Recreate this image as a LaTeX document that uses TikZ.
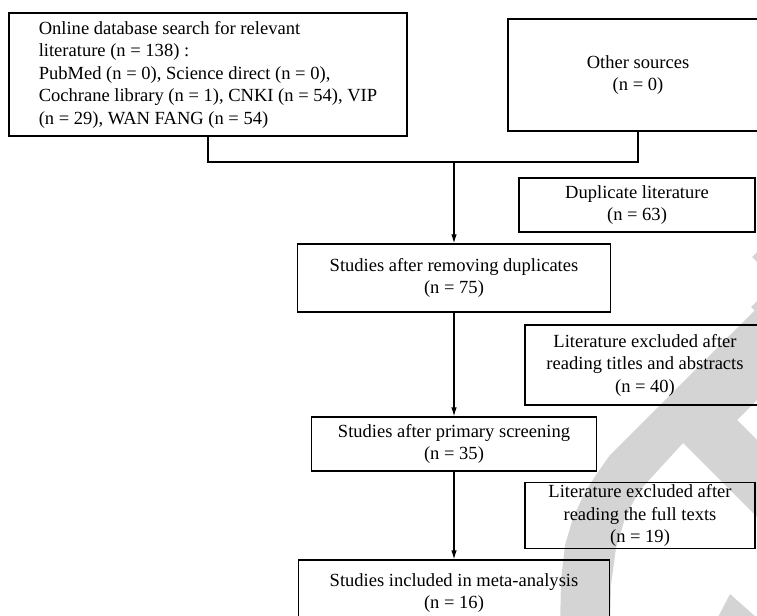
\documentclass[tikz,border=0pt]{standalone}
\usepackage{fontspec}
\setmainfont{Liberation Serif}
\usetikzlibrary{arrows.meta}
\definecolor{markgray}{RGB}{212,212,212}
\tikzset{
	flowbox/.style={draw, line width=1.2bp, inner sep=2bp, align=center, font=\fontsize{18.6pt}{22.6pt}\selectfont},
	flowline/.style={line width=1.2bp},
	flowarrow/.style={line width=1.2bp, -{Latex[length=9bp,width=5.5bp]}}
}

\begin{document}
\begin{tikzpicture}[x=1bp, y=-1bp]
			%%%%% START %%%%%
			\useasboundingbox (0,0) rectangle (757,616);
			\clip (0,0) rectangle (757,616);
			
			% watermark behind the boxes
			\fill[markgray] (800,265) -- (610,455) -- (598,472) -- (585,492) -- (573,518) -- (565,545) -- (561,580) -- (560,630)
				-- (610,630) -- (611,585) -- (616,548) -- (626,515) -- (640,490) -- (683,443)
				-- (790,550) -- (790,473) -- (737,420) -- (790,367) -- cycle;
			\fill[markgray] (714,625) -- (730,594) -- (765,625) -- cycle;
			\fill[markgray] (751,307) -- (762,296) -- (762,318) -- cycle;
			\fill[markgray] (752,257) -- (762,247) -- (762,267) -- cycle;
			
			\node[flowbox, minimum width=398bp, minimum height=123bp, align=left] (search) at (208,74.5) {Online database search for relevant\\literature (n = 138) :\\PubMed (n = 0), Science direct (n = 0),\\Cochrane library (n = 1), CNKI (n = 54), VIP\\(n = 29), WAN FANG (n = 54)};
			\node[flowbox, minimum width=260bp, minimum height=112bp] (other) at (638,75) {Other sources\\(n = 0)};
			
			\coordinate (join) at (454,162);
			\draw[flowline] (search.south) |- (join) -| (other.south);
			
			\node[flowbox, minimum width=236bp, minimum height=54bp] (dupl) at (637,205) {Duplicate literature\\(n = 63)};
			\node[flowbox, minimum width=313bp, minimum height=68bp] (removed) at (454,278) {Studies after removing duplicates\\(n = 75)};
			\draw[flowarrow] (join) -- (removed.north);
			
			\node[flowbox, minimum width=240bp, minimum height=80bp] (exclone) at (645,365) {Literature excluded after\\reading titles and abstracts\\(n = 40)};
			\node[flowbox, minimum width=285bp, minimum height=54bp] (primary) at (454,444) {Studies after primary screening\\(n = 35)};
			\draw[flowarrow] (removed.south) -- (primary.north);
			
			\node[flowbox, minimum width=230bp, minimum height=65bp] (excltwo) at (640,515.5) {Literature excluded after\\reading the full texts\\(n = 19)};
			\node[flowbox, minimum width=311bp, minimum height=66bp] (final) at (454,593) {Studies included in meta-analysis\\(n = 16)};
			\draw[flowarrow] (primary.south) -- (final.north);
			
			%%%%% END %%%%%
\end{tikzpicture}
\end{document}
